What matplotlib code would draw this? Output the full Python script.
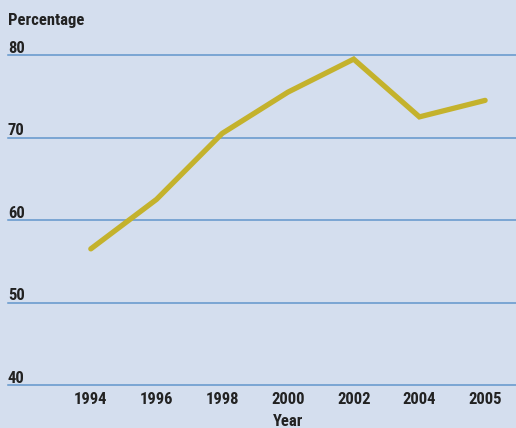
import matplotlib.pyplot as plt
import matplotlib.transforms as mtransforms

years = ['1994', '1996', '1998', '2000', '2002', '2004', '2005']
percentage = [56.5, 62.5, 70.5, 75.5, 79.5, 72.5, 74.5]
yticks = [40, 50, 60, 70, 80]

bg = '#d4deee'
plt.rcParams['font.family'] = ['Roboto Condensed', 'DejaVu Sans']

fig = plt.figure(figsize=(5.16, 4.28), dpi=100, facecolor=bg)
ax = fig.add_axes([8/516, 1 - 385/428, 1 - 8/516, (385 - 55)/428])
ax.set_facecolor(bg)

x = list(range(len(years)))
ax.plot(x, percentage, color='#c4b22c', lw=3.8, solid_capstyle='round',
        solid_joinstyle='miter', clip_on=False, zorder=3)

ax.set_xlim(-1.26, 6.47)
ax.set_ylim(40, 80)
for s in ax.spines.values():
    s.set_visible(False)
ax.set_yticks([])
ax.set_xticks([])

# gridlines with the tick labels sitting on top of them at the left edge
trans = mtransforms.blended_transform_factory(ax.transAxes, ax.transData)
for v in yticks:
    ax.axhline(v, color='#6296cc', lw=1.1, zorder=2, clip_on=False)
    ax.text(0, v + 0.25, str(v), transform=trans, fontsize=12,
            fontweight='bold', color='#222222', ha='left', va='baseline')

for i, lab in enumerate(years):
    ax.text(i, 38.3, lab, fontsize=12, fontweight='bold', color='#222222',
            ha='center', va='center')

ax.text(x[3], 36.5, 'Year', fontsize=12, fontweight='bold',
        color='#222222', ha='center', va='top')
fig.text(8/516, 1 - 20/428, 'Percentage', fontsize=12, fontweight='bold',
         color='#222222', ha='left', va='center')

fig.savefig('out.png', dpi=100, facecolor=bg)
